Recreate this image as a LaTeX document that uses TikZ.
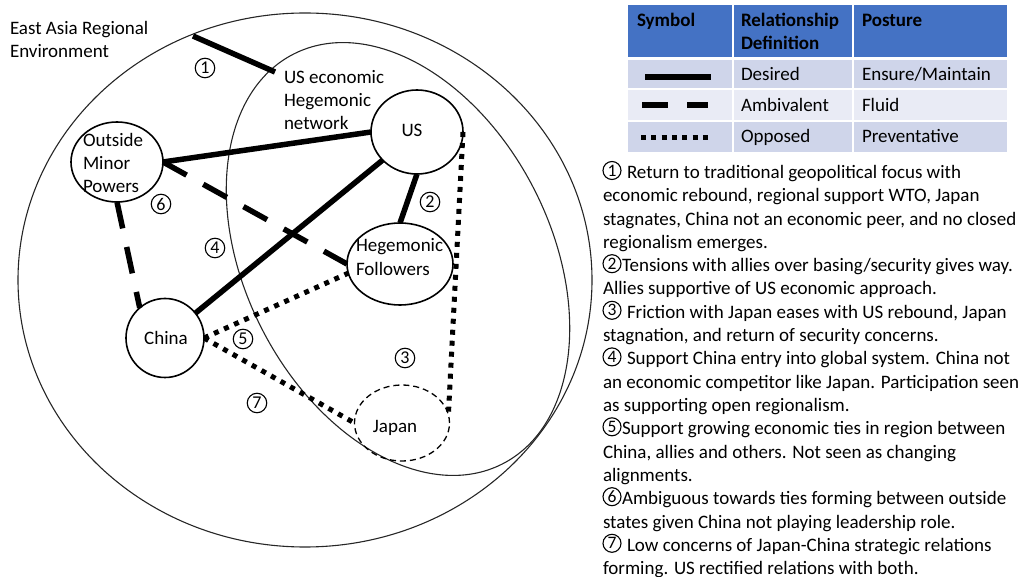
\documentclass[tikz,border=0pt]{standalone}
\usepackage{fontspec}
\setmainfont{Carlito}
\usetikzlibrary{shapes.geometric}
\definecolor{hdrblue}{HTML}{4472C4}
\definecolor{rowdark}{HTML}{CFD5EA}
\definecolor{rowlight}{HTML}{E9EBF5}
\begin{document}
\begin{tikzpicture}[x=1pt,y=1pt,
  every node/.style={inner sep=0pt, outer sep=0pt},
  txt/.style={font=\fontsize{19}{23.3}\selectfont, anchor=base west},
  ctxt/.style={font=\fontsize{19}{23.3}\selectfont, anchor=base},
  hdrtxt/.style={font=\fontsize{19}{23.3}\selectfont\bfseries, anchor=base west},
  num/.style={circle, draw, line width=1.1pt, minimum size=19.5pt, font=\fontsize{18}{18}\selectfont},
  notenum/.style={circle, draw, line width=1.1pt, minimum size=18pt, font=\fontsize{17.5}{17.5}\selectfont},
  actor/.style={ellipse, draw, line width=1.6pt},
  region/.style={line width=1.1pt, draw=black!85},
  desired/.style={line width=5.5pt},
  ambivalent/.style={line width=5.5pt, dash pattern=on 27pt off 19pt},
  opposed/.style={line width=5pt, dash pattern=on 5pt off 6pt},
]
\useasboundingbox (0,0) rectangle (1029,-577);

% regions
\draw[region] (305,-280) ellipse [x radius=287, y radius=267];
\draw[region, rotate around={27:(398,-259)}] (398,-259) ellipse [x radius=153, y radius=230];

% actors
\node[actor, minimum width=92pt, minimum height=84pt] (US) at (417,-132) {};
\node[actor, minimum width=92pt, minimum height=80pt] (OMP) at (117,-162) {};
\node[actor, minimum width=106pt, minimum height=82pt] (HF) at (400,-264) {};
\node[actor, minimum width=78pt, minimum height=79pt] (CN) at (165,-338) {};
\node[actor, line width=1.3pt, dash pattern=on 6pt off 4pt, minimum width=95pt, minimum height=76pt] (JP) at (402,-423) {};

% actor texts
\node[ctxt] (UStxt) at (412,-137) {US};
\node[txt] (OMPa) at (83,-147) {Outside};
\node[txt] (OMPb) at (83,-170) {Minor};
\node[txt] (OMPc) at (83,-193) {Powers};
\node[txt] (HFa) at (356,-252) {Hegemonic};
\node[txt] (HFb) at (356,-276) {Followers};
\node[ctxt] (CNtxt) at (166,-345) {China};
\node[ctxt] (JPtxt) at (395,-433) {Japan};

% region texts
\node[txt] (enva) at (10,-35) {East Asia Regional};
\node[txt] (envb) at (10,-58) {Environment};
\node[txt] (neta) at (284,-84) {US economic};
\node[txt] (netb) at (284,-107) {Hegemonic};
\node[txt] (netc) at (284,-130) {network};

% connectors
\coordinate (c1a) at (193,-36);
\coordinate (c1b) at (275,-72);
\draw[desired] (c1a) -- (c1b);
\draw[desired] (US.west) -- (OMP.east);
\draw[desired] (US) -- (CN);
\draw[desired] (US.south) -- (HF.north);
\draw[ambivalent] (OMP.east) -- (HF.west);
\draw[ambivalent] (OMP.south) -- (CN.130);
\draw[opposed] (CN.east) -- (HF.190);
\draw[opposed] (CN.east) -- (JP.west);
\draw[opposed] (US.east) -- (JP.10);

% numbers
\node[num] (n1) at (205,-68) {1};
\node[num] (n2) at (430,-202) {2};
\node[num] (n3) at (405,-358) {3};
\node[num] (n4) at (215,-248) {4};
\node[num] (n5) at (243,-339) {5};
\node[num] (n6) at (161,-204) {6};
\node[num] (n7) at (257,-403) {7};

% table
\fill[hdrblue] (628,-5) rectangle (732,-57);
\fill[hdrblue] (734,-5) rectangle (852,-57);
\fill[hdrblue] (854,-5) rectangle (1007,-57);
\foreach \ya/\yb/\c in {60/88/rowdark, 90/120/rowlight, 122/152/rowdark}{
  \fill[\c] (628,-\ya) rectangle (732,-\yb);
  \fill[\c] (734,-\ya) rectangle (852,-\yb);
  \fill[\c] (854,-\ya) rectangle (1007,-\yb);
}
\node[hdrtxt] (h1) at (637,-27) {Symbol};
\node[hdrtxt] (h2a) at (741,-27) {Relationship};
\node[hdrtxt] (h2b) at (741,-50) {Definition};
\node[hdrtxt] (h3) at (862,-27) {Posture};
\node[txt] (r1a) at (741,-81) {Desired};
\node[txt] (r1b) at (862,-81) {Ensure/Maintain};
\node[txt] (r2a) at (741,-112) {Ambivalent};
\node[txt] (r2b) at (862,-112) {Fluid};
\node[txt] (r3a) at (741,-143) {Opposed};
\node[txt] (r3b) at (862,-143) {Preventative};
\draw[line width=6pt] (645,-77) -- (711,-77);
\draw[line width=6pt, dash pattern=on 26pt off 19pt] (642,-105) -- (708,-105);
\draw[line width=5pt, dash pattern=on 5pt off 5.3pt] (641,-138) -- (708,-138);

% notes
\foreach \xs/\ln [count=\i] in {
627/{Return to traditional geopolitical focus with},
603/{economic rebound, regional support WTO, Japan},
603/{stagnates, China not an economic peer, and no closed},
603/{regionalism emerges.},
622/{Tensions with allies over basing/security gives way.},
603/{Allies supportive of US economic approach.},
627/{Friction with Japan eases with US rebound, Japan},
603/{stagnation, and return of security concerns.},
627/{Support China entry into global system. China not},
603/{an economic competitor like Japan. Participation seen},
603/{as supporting open regionalism.},
622/{Support growing economic ties in region between},
603/{China, allies and others. Not seen as changing},
603/{alignments.},
622/{Ambiguous towards ties forming between outside},
603/{states given China not playing leadership role.},
627/{Low concerns of Japan-China strategic relations},
603/{forming. US rectified relations with both.}
}{
  \node[txt] (note\i) at (\xs,{-178.5-(\i-1)*23.3}) {\ln};
}
\foreach \d/\i in {1/1, 2/5, 3/7, 4/9, 5/12, 6/15, 7/17}{
  \node[notenum] (nn\d) at (612,{-178.5+8-(\i-1)*23.3}) {\d};
}
\end{tikzpicture}
\end{document}
